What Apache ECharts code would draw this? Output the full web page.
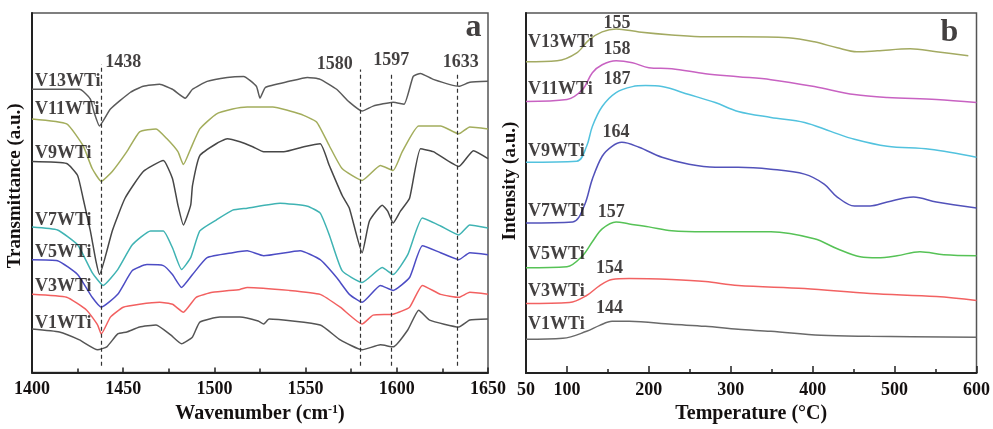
<!DOCTYPE html>
<html>
<head>
<meta charset="utf-8">
<script src="https://cdn.jsdelivr.net/npm/echarts@6/dist/echarts.min.js"></script>
<style>
html,body{margin:0;padding:0;background:#fff;}
#chart{width:993px;height:429px;}
</style>
</head>
<body>
<div id="chart"></div>
<script>
// ---------- Panel a: FTIR (wavenumber, transmittance a.u.) ----------
const samplesA = ['V13WTi','V11WTi','V9WTi','V7WTi','V5WTi','V3WTi','V1WTi'];
const ftirV13 = [[1400,286],[1426,286],[1428,284],[1432,276],[1434,263],[1437,249],[1443,266],[1454,283],[1461,289],[1470,291],[1477,286],[1484,277],[1488,286],[1496,294],[1507,298],[1516,299],[1523,289],[1525,277],[1528,288],[1541,294],[1551,298],[1558,296],[1567,286],[1574,273],[1581,264],[1587,269],[1598,273],[1604,271],[1609,299],[1613,302],[1620,296],[1634,289],[1640,293],[1650,294]];
const ftirV11 = [[1400,256],[1419,251],[1428,229],[1433,206],[1438,193],[1444,203],[1452,223],[1459,243],[1468,246],[1474,236],[1480,223],[1483,210],[1487,226],[1492,246],[1501,261],[1510,266],[1518,268],[1532,268],[1547,261],[1556,253],[1563,229],[1570,206],[1581,194],[1591,209],[1598,204],[1603,223],[1612,249],[1624,249],[1634,241],[1640,248],[1650,246]];
const ftirV9 = [[1400,213],[1419,211],[1425,199],[1428,176],[1432,143],[1435,113],[1437,99],[1444,143],[1451,176],[1461,203],[1472,214],[1477,196],[1480,169],[1483,149],[1487,169],[1488,189],[1492,219],[1501,231],[1507,236],[1514,233],[1521,228],[1527,223],[1538,223],[1549,228],[1558,231],[1563,209],[1570,179],[1574,166],[1581,121],[1585,153],[1592,169],[1595,163],[1598,151],[1602,163],[1607,176],[1613,226],[1620,223],[1634,208],[1642,224],[1650,216]];
const ftirV7 = [[1400,147],[1414,144],[1425,129],[1433,101],[1439,88],[1447,104],[1455,129],[1465,143],[1472,143],[1477,126],[1482,104],[1487,116],[1492,143],[1501,154],[1510,164],[1518,166],[1536,171],[1551,168],[1558,161],[1563,139],[1570,103],[1581,91],[1592,106],[1598,99],[1606,119],[1614,156],[1624,148],[1634,139],[1640,149],[1650,146]];
const ftirV5 = [[1400,114],[1414,113],[1425,99],[1433,76],[1438,66],[1447,79],[1455,103],[1463,109],[1472,108],[1477,99],[1482,86],[1488,99],[1496,116],[1510,121],[1518,123],[1527,118],[1547,123],[1558,114],[1567,96],[1574,79],[1581,71],[1591,88],[1598,83],[1607,96],[1614,128],[1624,121],[1634,114],[1640,121],[1650,119]];
const ftirV3 = [[1400,79],[1419,76],[1430,63],[1436,48],[1438,39],[1443,56],[1450,66],[1459,69],[1470,71],[1477,69],[1483,61],[1490,76],[1499,81],[1514,84],[1518,86],[1541,83],[1558,79],[1569,66],[1581,49],[1587,58],[1598,59],[1607,66],[1614,88],[1624,79],[1634,76],[1640,81],[1650,79]];
const ftirV1 = [[1400,44],[1415,41],[1426,33],[1436,23],[1441,26],[1447,39],[1452,41],[1459,46],[1468,48],[1476,38],[1482,29],[1488,36],[1492,51],[1503,56],[1514,56],[1524,52],[1527,49],[1530,54],[1558,48],[1569,33],[1581,23],[1591,28],[1598,26],[1606,43],[1612,63],[1618,53],[1634,46],[1640,53],[1650,54]];
const peakBands = [1438, 1580, 1597, 1633];
const bandTop = [311, 306, 303, 301];
const bandLabelPos = [[1450,313],[1566,311],[1597,315],[1635,313]];
const sampleLabelPosA = [[1401.6,294],[1401.6,266],[1401.6,221],[1401.6,154],[1401.6,121],[1401.6,87],[1401.6,50]];
const xTicksA = [1400, 1450, 1500, 1550, 1600, 1650];

// ---------- Panel b: NH3-TPD (temperature, intensity a.u.) ----------
const tpdV13 = [[50,313],[88,314],[112,322],[127,335],[143,343],[160,346],[188,343],[228,340],[269,338],[309,338],[370,337],[402,333],[430,327],[454,323],[479,324],[519,326],[551,323],[590,319]];
const tpdV11 = [[50,273],[100,275],[119,285],[131,302],[143,310],[160,314],[180,312],[200,307],[228,306],[269,301],[309,298],[349,295],[402,288],[451,280],[491,277],[551,275],[600,272]];
const tpdV9 = [[50,212],[112,213],[124,228],[131,248],[143,268],[160,282],[180,288],[196,289],[216,288],[249,280],[281,272],[309,263],[349,257],[390,252],[422,243],[451,235],[491,228],[543,225],[600,217]];
const tpdV7 = [[50,151],[107,152],[121,168],[131,195],[143,218],[155,228],[167,232],[188,227],[216,217],[249,210],[281,207],[309,207],[349,205],[390,200],[414,190],[430,177],[451,168],[470,168],[491,172],[523,177],[551,172],[600,166]];
const tpdV5 = [[50,106],[100,107],[119,118],[131,132],[143,145],[160,152],[176,150],[200,147],[228,143],[269,142],[309,142],[349,142],[402,135],[430,125],[458,117],[479,116],[503,118],[531,122],[560,119],[600,118]];
const tpdV3 = [[50,70],[103,71],[124,78],[140,88],[155,94],[176,95],[228,94],[269,92],[309,88],[390,85],[470,80],[551,77],[600,73]];
const tpdV1 = [[50,34],[95,35],[124,42],[140,48],[155,52],[176,52],[228,49],[269,47],[309,44],[349,42],[410,38],[470,37],[600,36]];
const peakTemps = ['155','158','187','164','157','154','144'];
const peakLabelPos = [[161,352],[161,325],[161,295],[160,242],[154,162],[152,105],[152,65]];
const sampleLabelPosB = [[52.4,332],[52.4,285],[52.4,223],[52.4,163],[52.4,119],[52.4,82],[52.4,49]];
const xLabelsB = [50, 100, 200, 300, 400, 500, 600];
const xMajorTicksB = [100, 200, 300, 400, 500, 600];
const xMinorTicksB = [150, 250, 350, 450, 550];

const ftirSeries = [ftirV13, ftirV11, ftirV9, ftirV7, ftirV5, ftirV3, ftirV1];
const tpdSeries = [tpdV13, tpdV11, tpdV9, tpdV7, tpdV5, tpdV3, tpdV1];
const colorsA = ['#5a5a5a','#a3ad5c','#474747','#3fb3b3','#4c4cc4','#f26060','#555555'];
const colorsB = ['#a3aa62','#c862c2','#52c2de','#5252ba','#56c256','#f26262','#6a6a6a'];

const FONT = 'Liberation Serif';
const TXT = '#141010';
const txtStyle = {fontFamily: FONT, fontWeight: 'bold', fontSize: 18, color: TXT};
const plainNum = v => String(v);

const chart = echarts.init(document.getElementById('chart'), null, {renderer: 'canvas'});

const series = [];
ftirSeries.forEach((d, i) => {
  const s = {
    type: 'line', xAxisIndex: 0, yAxisIndex: 0, data: d, showSymbol: false,
    smooth: 0.15, lineStyle: {color: colorsA[i], width: 1.5}, silent: true, z: 3
  };
  if (i === samplesA.length - 1) {
    s.markLine = {
      silent: true, symbol: 'none', label: {show: false},
      lineStyle: {type: [4, 3], color: '#333', width: 1.2},
      data: peakBands.map((b, k) => [{coord: [b, 7]}, {coord: [b, bandTop[k]]}])
    };
  }
  series.push(s);
});
tpdSeries.forEach((d, i) => {
  series.push({
    type: 'line', xAxisIndex: 1, yAxisIndex: 1, data: d, showSymbol: false,
    smooth: 0.35, lineStyle: {color: colorsB[i], width: 1.5}, silent: true, z: 3
  });
});
function textSeries(xi, yi, items, pos) {
  return {
    type: 'scatter', xAxisIndex: xi, yAxisIndex: yi, symbolSize: 0, silent: true, z: 5,
    data: items,
    label: {show: true, position: pos, distance: 0, formatter: '{b}', ...txtStyle}
  };
}
series.push(textSeries(0, 0, samplesA.map((n, i) => ({name: n, value: sampleLabelPosA[i]})), 'right'));
series.push(textSeries(0, 0, peakBands.map((b, i) => ({name: String(b), value: bandLabelPos[i]})), 'inside'));
series.push(textSeries(1, 1, samplesA.map((n, i) => ({name: n, value: sampleLabelPosB[i]})), 'right'));
series.push(textSeries(1, 1, peakTemps.map((t, i) => ({name: t, value: peakLabelPos[i]})), 'inside'));
series.push({
  type: 'scatter', xAxisIndex: 0, yAxisIndex: 0, symbolSize: 0, silent: true,
  data: [{name: 'a', value: [1642, 348]}],
  label: {show: true, position: 'inside', formatter: '{b}', fontFamily: FONT, fontWeight: 'bold', fontSize: 32, color: TXT}
});
series.push({
  type: 'scatter', xAxisIndex: 1, yAxisIndex: 1, symbolSize: 0, silent: true,
  data: [{name: 'b', value: [567, 342]}],
  label: {show: true, position: 'inside', formatter: '{b}', fontFamily: FONT, fontWeight: 'bold', fontSize: 32, color: TXT}
});

const axisLineStyle = {show: true, lineStyle: {color: '#222', width: 2}};

chart.setOption({
  animation: false,
  backgroundColor: '#fff',
  grid: [
    {left: 32, top: 13, width: 456, height: 363, show: true, borderColor: '#555', borderWidth: 1.5},
    {left: 526, top: 13, width: 455, height: 362, show: true, borderColor: '#555', borderWidth: 1.5}
  ],
  xAxis: [
    {
      type: 'value', gridIndex: 0, min: 1400, max: 1650, interval: 50,
      axisLine: axisLineStyle,
      axisTick: {show: true, inside: true, length: 5, lineStyle: {color: '#222', width: 1.5}},
      minorTick: {show: true, splitNumber: 2, length: 4, lineStyle: {color: '#222', width: 1.5}},
      axisLabel: {...txtStyle, margin: 8, customValues: xTicksA, formatter: plainNum},
      splitLine: {show: false},
      name: 'Wavenumber (cm{sup|-1})', nameLocation: 'middle', nameGap: 28,
      nameTextStyle: {fontFamily: FONT, fontWeight: 'bold', fontSize: 20, color: TXT,
        rich: {sup: {fontFamily: FONT, fontWeight: 'bold', fontSize: 12, color: TXT, padding: [0, 0, 9, 0]}}}
    },
    {
      type: 'value', gridIndex: 1, min: 50, max: 600,
      axisLine: axisLineStyle,
      axisTick: {show: true, inside: true, length: 7, customValues: xMajorTicksB, lineStyle: {color: '#222', width: 1.5}},
      axisLabel: {...txtStyle, margin: 8, customValues: xLabelsB, formatter: plainNum},
      splitLine: {show: false},
      name: 'Temperature (°C)', nameLocation: 'middle', nameGap: 28,
      nameTextStyle: {fontFamily: FONT, fontWeight: 'bold', fontSize: 20, color: TXT}
    },
    {
      type: 'value', gridIndex: 1, min: 50, max: 600, position: 'bottom',
      axisLine: {show: false},
      axisTick: {show: true, inside: true, length: 4, customValues: xMinorTicksB, lineStyle: {color: '#222', width: 1.5}},
      axisLabel: {show: false},
      splitLine: {show: false}
    }
  ],
  yAxis: [
    {
      type: 'value', gridIndex: 0, min: 0, max: 363,
      axisLine: axisLineStyle, axisTick: {show: false}, axisLabel: {show: false}, splitLine: {show: false},
      name: 'Transmittance (a.u.)', nameLocation: 'middle', nameGap: 7,
      nameTextStyle: {fontFamily: FONT, fontWeight: 'bold', fontSize: 19, color: TXT, padding: [0, 0, 0, 14]}
    },
    {
      type: 'value', gridIndex: 1, min: 0, max: 362,
      axisLine: axisLineStyle, axisTick: {show: false}, axisLabel: {show: false}, splitLine: {show: false},
      name: 'Intensity (a.u.)', nameLocation: 'middle', nameGap: 6,
      nameTextStyle: {fontFamily: FONT, fontWeight: 'bold', fontSize: 19, color: TXT, padding: [0, 0, 0, 24]}
    }
  ],
  series: series
});
</script>
</body>
</html>
